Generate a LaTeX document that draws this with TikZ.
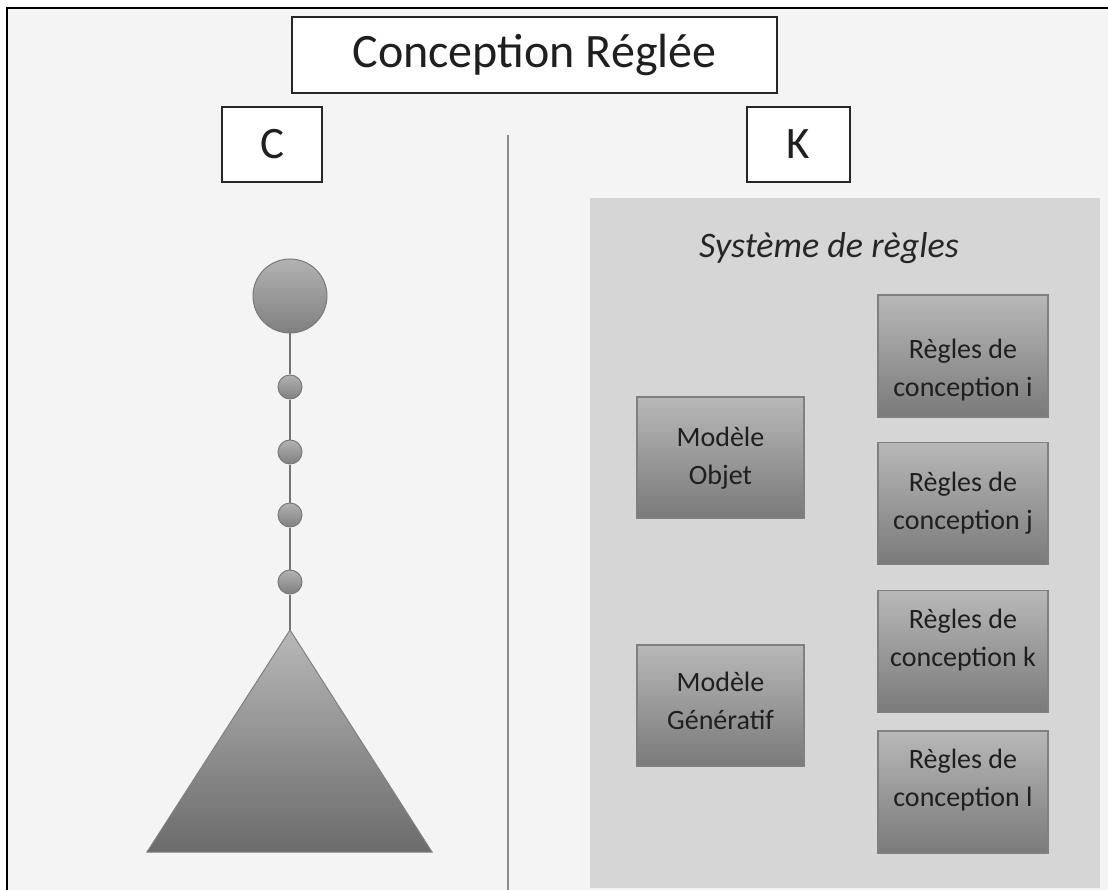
\documentclass[tikz,border=0pt]{standalone}
\usepackage{fontspec}
\setmainfont{Carlito}
\usetikzlibrary{positioning}
\definecolor{pagebg}{HTML}{F4F4F4}
\definecolor{panelbg}{HTML}{D6D6D6}
\definecolor{boxtop}{HTML}{B8B8B8}
\definecolor{boxbot}{HTML}{7A7A7A}
\definecolor{edgegray}{HTML}{808080}
% two lines of text, moved up or down inside the box
\newcommand{\shiftup}[2]{\raisebox{#1}[\height][\depth]{\begin{tabular}{@{}c@{}}#2\end{tabular}}}

\begin{document}
\begin{tikzpicture}[x=1pt,y=-1pt,
	tag/.style={draw=black!85,line width=1.8pt,fill=white,inner sep=0pt,
		text=black!88,font=\fontsize{45}{50}\selectfont},
	rulebox/.style={draw=edgegray,line width=1.3pt,top color=boxtop,bottom color=boxbot,
		minimum width=170pt,minimum height=122pt,inner sep=0pt,
		text=black!88,font=\fontsize{28}{38}\selectfont},
	ball/.style={circle,draw=black!52,line width=1pt,top color=black!30,bottom color=black!50,
		inner sep=0pt},
]
	\useasboundingbox (0,0) rectangle (1108,890);
	\fill[pagebg] (7,8) rectangle (1108,890);
	\draw[line width=2pt] (7,890) -- (7,8) -- (1108,8);

	% titles
	\node[tag,minimum width=485pt,minimum height=76pt,font=\fontsize{48}{52}\selectfont]
		(title) at (534.5,55) {Conception Réglée};
	\node[tag,minimum width=100pt,minimum height=75pt] (C) at (272,144.5) {C};
	\node[tag,minimum width=103pt,minimum height=75pt] (K) at (798.5,144.5) {K};

	\draw[black!45,line width=1.5pt] (508,135) -- (508,890);

	% C side
	\coordinate (apex) at (290,630);
	\shade[top color=black!28,bottom color=black!58,draw=black!50,line width=1pt]
		(apex) -- (432,852) -- (147,852) -- cycle;
	\node[ball,minimum size=74pt] (top) at (290,296) {};
	\node[ball,minimum size=24pt] (d1) at (290,387) {};
	\node[ball,minimum size=24pt] (d2) at (290,452) {};
	\node[ball,minimum size=24pt] (d3) at (290,515) {};
	\node[ball,minimum size=24pt] (d4) at (290,582) {};
	\path[draw=black!55,line width=1.6pt]
		(top) edge (d1)
		(d1) edge (d2)
		(d2) edge (d3)
		(d3) edge (d4)
		(d4) edge (apex)
	;

	% K side
	\fill[panelbg] (590,198) rectangle (1100,888);
	\node[font=\itshape\fontsize{36}{40}\selectfont,text=black!85] (sys) at (829,248) {Système de règles};

	\node[rulebox,minimum width=167pt,minimum height=121pt] (objet) at (720.5,457.5)
		{\shiftup{0pt}{Modèle\\Objet}};
	\node[rulebox,minimum width=167pt,minimum height=121pt] (gen) at (720.5,705.5)
		{\shiftup{3pt}{Modèle\\Génératif}};

	\node[rulebox] (ri) at (963,356) {\shiftup{-14pt}{Règles de\\conception i}};
	\node[rulebox,below=24pt of ri] (rj) {\shiftup{0pt}{Règles de\\conception j}};
	\node[rulebox,below=25pt of rj] (rk) {\shiftup{12pt}{Règles de\\conception k}};
	\node[rulebox,below=17pt of rk] (rl) {\shiftup{12pt}{Règles de\\conception l}};
\end{tikzpicture}
\end{document}
